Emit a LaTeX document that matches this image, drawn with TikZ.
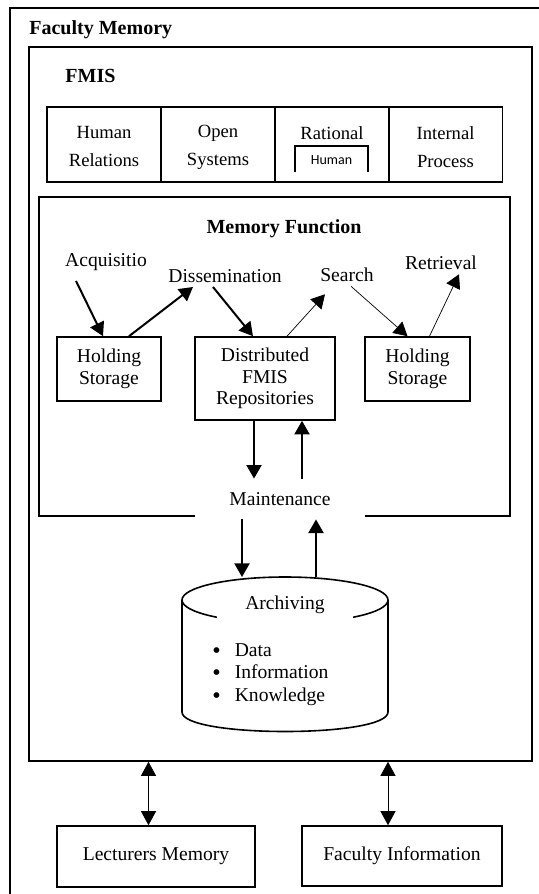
\documentclass[tikz,border=0pt]{standalone}
\usepackage{fontspec}
\setmainfont{Liberation Serif}
\newfontfamily\humanfont{Carlito}
\usetikzlibrary{arrows.meta,positioning}

\tikzset{
  box/.style={draw, line width=0.8pt, align=center, inner sep=0pt},
  cell/.style={box, minimum width=57pt, minimum height=37.5pt},
  celltext/.style={align=center, inner sep=0pt, font=\fontsize{9.3}{14}\selectfont},
  lbl/.style={align=center, inner sep=2pt},
  items/.style={inner sep=0pt, anchor=west, align=left, font=\fontsize{9.8}{11.25}\selectfont},
  headlbl/.style={inner sep=0pt, font=\bfseries\fontsize{10}{12}\selectfont},
  thickarr/.style={-{Triangle[length=6.8pt,width=7.5pt]}, line width=1pt},
  thinarr/.style={-{Triangle[length=6.8pt,width=7.5pt]}, line width=0.35pt},
  dblarr/.style={{Triangle[length=7pt,width=7.5pt]}-{Triangle[length=7pt,width=7.5pt]}, line width=0.35pt}
}
\newcommand{\bigbul}{\raisebox{-0.9pt}{\fontsize{12}{12}\selectfont\textbullet}\hspace{7pt}}

\begin{document}
\begin{tikzpicture}[x=0.5pt,y=-0.5pt,font=\fontsize{9.8}{10.8}\selectfont]
\useasboundingbox (0,0) rectangle (539,894);

% faculty memory frame
\draw[line width=1pt] (10,894) -- (10,8) -- (539,8);
\node[headlbl, anchor=west] (facmem) at (29,30) {Faculty Memory};

% FMIS
\node[box, minimum width=251.5pt, minimum height=357pt] (fmisbox) at (280.5,404) {};
\node[headlbl, anchor=west] (fmis) at (65,76) {FMIS};

\foreach \nm/\cx in {hr/104, os/218, ra/332, ip/445.5}
  \node[cell] (\nm) at (\cx,144.5) {};
\node[celltext] (hrtext) at (104,147) {Human\\Relations};
\node[celltext] (ostext) at (218,147) {Open\\Systems};
\node[celltext] (ratext) at (332,133) {Rational};
\node[celltext] (iptext) at (445.5,147) {Internal\\Process};
\draw[line width=0.6pt] (295,172) |- (368,146) -- (368,172);
\node[inner sep=0pt, font=\humanfont\fontsize{7}{8}\selectfont] (human) at (331.5,160) {Human};

% memory function
\node[box, minimum width=235.5pt, minimum height=159.5pt] (mf) at (274.5,356.5) {};
\node[headlbl] (mftitle) at (284,229) {Memory Function};

\node[lbl] (acq) at (106,262) {Acquisitio};
\node[lbl] (diss) at (225,276) {Dissemination};
\node[lbl] (search) at (347,275) {Search};
\node[lbl] (retr) at (441,263) {Retrieval};

\node[box, minimum width=52pt, minimum height=32pt] (lh) at (109,369) {Holding\\Storage};
\node[box, minimum width=70pt, minimum height=41.5pt] (dist) at (265,378.5) {Distributed\\FMIS\\Repositories};
\node[box, minimum width=52.5pt, minimum height=32pt] (rh) at (417.5,369) {Holding\\Storage};

\draw[thickarr] ([xshift=-15pt,yshift=-3pt]acq.south) -- ([xshift=-3pt]lh.north);
\draw[thickarr] ([xshift=10pt]lh.north) -- ([xshift=-16pt]diss.south);
\draw[thickarr] ([xshift=-6pt]diss.south) -- ([xshift=-6pt]dist.north);
\draw[thinarr] ([xshift=11pt]dist.north) -- ([xshift=-11pt,yshift=-4pt]search.south);
\draw[thinarr] ([xshift=2pt]search.south) -- ([xshift=-5pt]rh.north);
\draw[thinarr] ([xshift=6pt]rh.north) -- ([xshift=9pt]retr.south);

\node[fill=white, inner sep=0pt, minimum width=85pt, minimum height=20pt] (maint) at (280,499) {Maintenance};
\draw[thickarr] ([xshift=-5.5pt]dist.south) -- ([xshift=-13pt]maint.north);
\draw[thickarr] ([xshift=11pt]maint.north) -- ([xshift=18.5pt]dist.south);

% archiving
\coordinate (cyltop) at (285,577);
\draw[line width=0.8pt] (285,600) ellipse [x radius=103, y radius=23];
\draw[line width=0.8pt] (182,600) -- (182,712) .. controls (182,738) and (388,738) .. (388,712) -- (388,600);
\node[fill=white, inner sep=0pt, minimum width=68pt, minimum height=19pt] (arch) at (285,605) {Archiving};
\node[items] (archlist) at (212,674.5) {\bigbul Data\\\bigbul Information\\\bigbul Knowledge};

\draw[thickarr] ([xshift=-19pt]maint.south) -- ([xshift=-19pt]maint.south |- cyltop);
\draw[thickarr] ([xshift=18pt]maint.south |- cyltop) -- ([xshift=18pt]maint.south);

% outside
\node[box, minimum width=99pt, minimum height=30.5pt] (lect) at (156,856.5) {Lecturers Memory};
\node[box, minimum width=100pt, minimum height=30pt] (facinfo) at (402,856) {Faculty Information};
\draw[dblarr] ([xshift=-3.75pt]lect.north |- fmisbox.south) -- ([xshift=-3.75pt]lect.north);
\draw[dblarr] ([xshift=-7pt]facinfo.north |- fmisbox.south) -- ([xshift=-7pt]facinfo.north);
\end{tikzpicture}
\end{document}
